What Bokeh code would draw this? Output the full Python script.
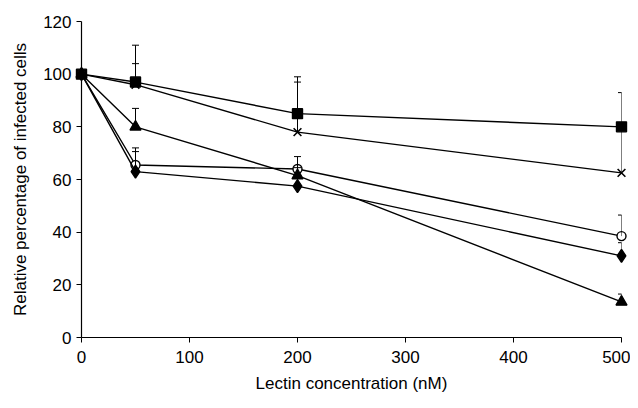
from bokeh.plotting import figure
from bokeh.models import Range1d, Whisker, ColumnDataSource, TeeHead
from bokeh.embed import file_html
from bokeh.resources import INLINE

conc = [0, 50, 200, 500]

square = [100, 97, 85, 80]
square_err = [0, 14, 14, 13]
cross = [100, 96, 78, 62.5]
cross_err = [0, 8, 19, 18]
circle = [100, 65.5, 64, 38.5]
circle_err = [0, 6.5, 4.7, 8]
diamond = [100, 63, 57.5, 31]
diamond_err = [0, 7.6, 4, 5]
triangle = [100, 80, 61.5, 13.5]
triangle_err = [0, 7, 3, 3]

x_ticks = [0, 100, 200, 300, 400, 500]
y_ticks = [0, 20, 40, 60, 80, 100, 120]

FONT = "Liberation Sans"

p = figure(width=630, height=400, x_range=Range1d(0, 500), y_range=Range1d(0, 120),
           output_backend="svg", toolbar_location=None,
           min_border_left=81, min_border_right=9, min_border_top=21, min_border_bottom=63)
p.xgrid.visible = False
p.ygrid.visible = False
p.outline_line_color = None
p.background_fill_color = "white"
p.border_fill_color = "white"

p.xaxis.ticker = x_ticks
p.yaxis.ticker = y_ticks
for ax in (p.xaxis, p.yaxis):
    ax.major_tick_in = 0
    ax.major_tick_out = 5
    ax.minor_tick_line_color = None
    ax.axis_line_color = "black"
    ax.axis_line_width = 1.2
    ax.major_tick_line_color = "black"
    ax.major_label_text_font = FONT
    ax.major_label_text_font_size = "17px"
    ax.major_label_text_color = "black"
    ax.axis_label_text_font = FONT
    ax.axis_label_text_font_size = "17px"
    ax.axis_label_text_font_style = "normal"
    ax.axis_label_text_color = "black"
p.xaxis.axis_label = "Lectin concentration (nM)"
p.yaxis.axis_label = "Relative percentage of infected cells"
p.xaxis.major_label_standoff = 8
p.xaxis.axis_label_standoff = 8
p.yaxis.major_label_standoff = 5
p.yaxis.axis_label_standoff = 10

series = [
    (square, square_err, "square", 10, True, 1.4),
    (cross, cross_err, "x", 11, False, 1.6),
    (circle, circle_err, "circle", 9, False, 1.4),
    (diamond, diamond_err, "diamond", 13, True, 1.4),
    (triangle, triangle_err, "triangle", 11, True, 1.4),
]

for vals, errs, marker, size, filled, lw in series:
    upper = [v + e for v, e in zip(vals, errs)]
    src = ColumnDataSource(dict(x=conc, y=vals, upper=upper))
    w = Whisker(base="x", lower="y", upper="upper", source=src, dimension="height",
                line_color="black", line_width=1, level="overlay",
                upper_head=TeeHead(size=7, line_color="black", line_width=1),
                lower_head=None)
    p.add_layout(w)

for vals, errs, marker, size, filled, lw in series:
    src = ColumnDataSource(dict(x=conc, y=vals))
    r1 = p.line("x", "y", source=src, line_color="black", line_width=1.4)
    r2 = p.scatter("x", "y", source=src, marker=marker, size=size,
                   line_color="black", line_width=lw,
                   fill_color="black" if filled else "white")
    r1.level = "overlay"
    r2.level = "overlay"

open("out.html", "w").write(file_html(p, INLINE))
